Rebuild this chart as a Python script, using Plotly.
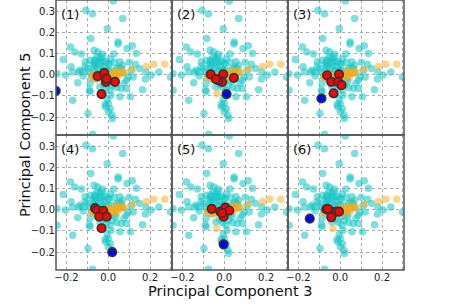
import plotly.graph_objects as go
from plotly.subplots import make_subplots

# background (cyan) points: principal component 3 / 5
cyan_x = [-0.107, -0.076, 0.024, 0.069, -0.005, -0.084, -0.181, -0.160, -0.215, -0.128,
          -0.068, -0.028, 0.027, 0.047, 0.047, 0.090, 0.115, 0.135, -0.110, -0.087,
          -0.063, -0.040, 0.000, 0.056, 0.068, -0.135, -0.122, -0.146, -0.170, -0.100,
          0.111, 0.150, 0.180, 0.242, 0.119, 0.087, 0.036, 0.062, 0.087, 0.164,
          -0.087, -0.087, -0.040, -0.008, 0.008, 0.056, 0.106, -0.170, -0.097, -0.012,
          0.000, 0.018, 0.020, -0.075, -0.245, -0.245, 0.298, -0.050, -0.066, -0.090,
          -0.080, -0.027, -0.011, 0.005, 0.045, 0.050, -0.090, 0.013, -0.060, -0.050,
          -0.035, -0.020, -0.070, -0.045, 0.015, 0.025, 0.030, 0.005, -0.020, 0.020,
          0.040, 0.075, 0.095, 0.070, -0.060, -0.110, -0.030, -0.055, 0.010, -0.005,
          0.010, 0.000, -0.015, 0.100, 0.130, -0.178, -0.141, 0.178, -0.075, -0.040,
          -0.010, 0.030, 0.060, -0.065, -0.025, 0.000, 0.040, 0.205, -0.205, -0.120]
cyan_y = [0.306, 0.290, 0.350, 0.267, 0.219, 0.172, 0.132, 0.109, 0.073, 0.099,
          0.117, 0.098, 0.099, 0.156, 0.147, 0.125, 0.138, 0.102, 0.062, 0.069,
          0.062, 0.077, 0.054, 0.062, 0.046, 0.022, 0.014, -0.037, 0.014, 0.030,
          0.022, 0.030, 0.014, 0.014, -0.010, -0.025, -0.030, -0.065, -0.065, -0.070,
          -0.041, -0.080, -0.057, -0.060, -0.073, -0.104, -0.104, -0.120, -0.183, -0.151,
          -0.136, -0.191, -0.207, -0.282, 0.005, -0.073, -0.010, 0.109, 0.040, 0.014,
          -0.008, 0.062, 0.022, 0.050, 0.007, 0.036, -0.072, -0.096, 0.050, 0.030,
          0.045, 0.040, 0.020, 0.010, 0.020, 0.000, -0.020, -0.030, -0.045, -0.050,
          -0.060, -0.040, -0.010, 0.010, -0.020, 0.040, 0.085, 0.085, 0.075, -0.115,
          -0.160, -0.175, -0.140, 0.060, 0.050, 0.038, 0.014, -0.020, 0.050, 0.060,
          0.065, 0.060, 0.030, 0.070, 0.020, 0.020, 0.030, 0.000, 0.000, -0.005]

# orange points
orange_x = [0.270, 0.218, 0.183, 0.116, 0.079, 0.063, 0.050, 0.040,
            0.030, 0.020, 0.010, 0.000, -0.010, -0.020, -0.030, -0.040, -0.050, -0.060,
            -0.068, -0.075, -0.080, -0.035, -0.050, 0.060, 0.035, 0.015, -0.060,
            0.000, -0.025, 0.045]
orange_y = [0.050, 0.050, 0.040, 0.027, 0.014, 0.006, 0.010, 0.000,
            0.005, -0.005, 0.000, -0.005, 0.002, -0.008, 0.000, -0.010, -0.005, -0.012,
            -0.010, 0.000, -0.015, -0.088, -0.020, 0.020, 0.020, -0.020, 0.005,
            0.010, -0.025, -0.010]

# red points per panel
red_x = [
    [-0.051, -0.019, -0.011, 0.032, -0.032, -0.008],
    [-0.065, -0.005, 0.046, -0.010, -0.029, -0.040],
    [-0.063, -0.006, -0.043, -0.010, 0.006, -0.032],
    [-0.063, -0.055, -0.024, -0.043, -0.008, -0.032],
    [-0.060, -0.019, 0.005, 0.024, -0.003, -0.010],
    [-0.067, -0.051, -0.019, -0.006, -0.043, -0.060],
]
red_y = [
    [-0.006, 0.009, -0.033, -0.033, -0.091, -0.018],
    [0.002, 0.003, -0.014, -0.033, -0.025, -0.020],
    [-0.002, 0.002, -0.033, -0.033, -0.049, -0.088],
    [0.008, 0.000, -0.005, -0.032, -0.032, -0.087],
    [0.005, -0.008, 0.011, -0.003, -0.032, -0.015],
    [0.003, -0.003, -0.008, -0.008, -0.035, 0.005],
]
# blue point per panel
blue_x = [-0.252, 0.011, -0.090, 0.019, -0.003, -0.146]
blue_y = [-0.076, -0.091, -0.112, -0.200, -0.163, -0.041]

panel_labels = ["(1)", "(2)", "(3)", "(4)", "(5)", "(6)"]
x_ticks = [-0.2, -0.1, 0.0, 0.1, 0.2, 0.3]
x_tick_text = ["\u22120.2", "", "0.0", "", "0.2", ""]
y_ticks = [-0.2, -0.1, 0.0, 0.1, 0.2, 0.3]
y_tick_text = ["\u22120.2", "\u22120.1", "0.0", "0.1", "0.2", "0.3"]

fig = make_subplots(rows=2, cols=3, shared_xaxes=True, shared_yaxes=True,
                    horizontal_spacing=0, vertical_spacing=0)

for i in range(6):
    r, c = i // 3 + 1, i % 3 + 1
    fig.add_trace(go.Scatter(x=cyan_x, y=cyan_y, mode="markers",
                             marker=dict(size=7.5, color="rgba(20,196,196,0.55)", line=dict(width=0)),
                             showlegend=False, hoverinfo="skip"), row=r, col=c)
    fig.add_trace(go.Scatter(x=orange_x, y=orange_y, mode="markers",
                             marker=dict(size=7.5, color="rgba(255,170,20,0.5)", line=dict(width=0)),
                             showlegend=False, hoverinfo="skip"), row=r, col=c)
    fig.add_trace(go.Scatter(x=red_x[i], y=red_y[i], mode="markers",
                             marker=dict(size=8.5, color="#ff0000", line=dict(width=1.7, color="#333333")),
                             showlegend=False), row=r, col=c)
    fig.add_trace(go.Scatter(x=[blue_x[i]], y=[blue_y[i]], mode="markers",
                             marker=dict(size=8.5, color="#0000ff", line=dict(width=1.7, color="#333333")),
                             showlegend=False), row=r, col=c)
    axn = "" if i == 0 else str(i + 1)
    fig.add_annotation(text=panel_labels[i], xref=f"x{axn} domain", yref=f"y{axn} domain",
                       x=0.03, y=1 - 14 / 135, xanchor="left", yanchor="middle",
                       showarrow=False, font=dict(size=13, color="#111", family="DejaVu Sans"))
    fig.add_shape(type="rect", xref=f"x{axn} domain", yref=f"y{axn} domain",
                  x0=0, x1=1, y0=0, y1=1, line=dict(color="#555555", width=1.5),
                  fillcolor="rgba(0,0,0,0)", layer="above")

fig.update_xaxes(range=[-0.25, 0.305], tickvals=x_ticks, ticktext=x_tick_text,
                 showgrid=True, gridcolor="#aaaaaa", griddash="dot", gridwidth=1,
                 zeroline=False, showline=False, automargin=False,
                 ticks="", tickfont=dict(size=10, color="#222", family="DejaVu Sans"))
fig.update_yaxes(range=[-0.285, 0.355], tickvals=y_ticks, ticktext=y_tick_text,
                 showgrid=True, gridcolor="#aaaaaa", griddash="dot", gridwidth=1,
                 zeroline=False, showline=False, automargin=False,
                 ticks="", tickfont=dict(size=10, color="#222", family="DejaVu Sans"))

fig.add_annotation(text="Principal Component 3", xref="paper", yref="paper",
                   x=0.5, y=-21 / 270, xanchor="center", yanchor="middle", showarrow=False,
                   font=dict(size=14.5, color="#111", family="DejaVu Sans"))
fig.add_annotation(text="Principal Component 5", xref="paper", yref="paper",
                   x=(25 - 56) / 348, y=0.5, xanchor="center", yanchor="middle", showarrow=False,
                   textangle=-90, font=dict(size=14.5, color="#111", family="DejaVu Sans"))

fig.update_layout(width=449, height=304, margin=dict(l=56, r=45, t=0, b=34, pad=0),
                  paper_bgcolor="white", plot_bgcolor="white",
                  font=dict(family="DejaVu Sans"))

fig.write_html("out.html", config={"displayModeBar": False},
               post_script="document.body.style.margin='0';document.body.style.padding='0';")
